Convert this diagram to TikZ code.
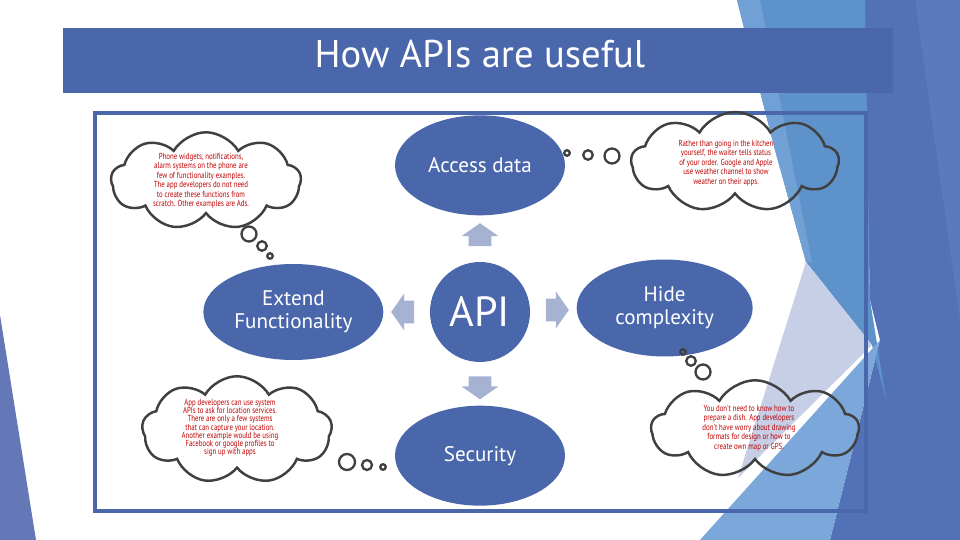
\documentclass[tikz,border=0pt]{standalone}
\usepackage{fontspec}
\setmainfont{PT Sans}
\newfontfamily\notefont[FakeStretch=0.78]{PT Sans}
\usetikzlibrary{shapes.geometric,shapes.symbols,shapes.arrows,positioning,calc}
\definecolor{facetblue}{RGB}{74,103,172}
\definecolor{arrowblue}{RGB}{166,178,210}
\definecolor{cloudline}{RGB}{64,64,64}
\definecolor{notered}{RGB}{192,0,0}
\definecolor{bgdark}{RGB}{83,113,182}
\definecolor{bgmid}{RGB}{94,146,203}
\definecolor{bgstrip}{RGB}{112,160,212}
\definecolor{bglav}{RGB}{198,207,230}
\definecolor{bglight}{RGB}{123,167,218}
\definecolor{bgfar}{RGB}{93,121,190}
\definecolor{bgleft}{RGB}{100,120,184}

\begin{document}
\begin{tikzpicture}[x=0.02cm,y=-0.02cm,node distance=0.92cm,
  topic/.style={ellipse, fill=facetblue, text=white, align=center, inner sep=0pt, font=\fontsize{12}{13}\selectfont},
  pointer/.style={single arrow, fill=arrowblue, inner xsep=0pt, inner ysep=0.22cm, minimum height=0.46cm, single arrow head extend=0.14cm, single arrow tip angle=110},
  vpointer/.style={pointer, inner xsep=0.22cm, inner ysep=0pt},
  thought/.style={cloud, draw=cloudline, line width=1.4pt, cloud puffs=9, cloud puff arc=120, cloud ignores aspect, inner sep=0pt},
  note/.style={text=notered, align=center, inner sep=0pt, font=\notefont\fontsize{5}{5.4}\selectfont},
  bubble/.style={circle, draw=cloudline, line width=1.3pt, inner sep=0pt}]
\useasboundingbox (0,0) rectangle (960,540);
% background facets
\fill[white] (0,0) rectangle (960,540);
\fill[bgdark] (863,0) -- (960,0) -- (960,540) -- (830,540) -- (880,340) -- (870,300) -- cycle;
\fill[bgmid] (737,0) -- (865,0) -- (870,300) -- (886,400) -- (872,345) -- (806,262) -- (775,150) -- (752,60) -- cycle;
\fill[bgstrip] (737,0) -- (760,0) -- (812,262) -- (806,262) -- (775,150) -- (752,60) -- cycle;
\fill[bglav] (806,262) -- (872,345) -- (738,478) -- cycle;
\fill[bglight] (880,340) -- (830,540) -- (700,540) -- cycle;
\fill[bgfar] (915,0) -- (960,0) -- (960,320) -- cycle;
\fill[bgleft] (0,315) -- (0,540) -- (36,540) -- cycle;
% title and frame
\node[fill=facetblue, minimum width=16.6cm, minimum height=1.3cm, inner sep=0pt] (titlebar) at (478,60.5) {};
\node[text=white, font=\fontsize{22}{26}\selectfont, inner sep=0pt] (title) at (480,54) {How APIs are useful};
\draw[facetblue, line width=2.3pt] (95,113) rectangle (866,511);
% topics round the API
\node[topic, circle, minimum size=2cm, font=\fontsize{24}{26}\selectfont] (api) at (480,312) {API};
\node[topic, minimum width=3.4cm, minimum height=2cm, above=of api] (access) {Access data};
\node[topic, minimum width=3.6cm, minimum height=1.92cm, left=of api] (extend) {Extend\\Functionality};
\node[topic, minimum width=3.52cm, minimum height=1.94cm, right=of api, yshift=0.08cm] (hide) {Hide\\complexity};
\node[topic, minimum width=3.4cm, minimum height=2cm, below=0.86cm of api] (security) {Security};
\node[vpointer, shape border rotate=90] (upArrow) at ($(access.south)!0.5!(api.north)$) {};
\node[pointer, shape border rotate=180] (leftArrow) at ($(extend.east)!0.5!(api.west)$) {};
\node[pointer, shape border rotate=0] (rightArrow) at ($(hide.west)!0.5!(api.east)$) {};
\node[vpointer, shape border rotate=270] (downArrow) at ($(security.north)!0.5!(api.south)$) {};
% thought clouds
\node[thought, minimum width=3.8cm, minimum height=1.95cm] (cloudA) at (206,181) {};
\node[note] (cloudAtext) at (201,181) {Phone widgets, notifications,\\alarm systems on the phone are\\few of functionality examples.\\The app developers do not need\\to create these functions from\\scratch. Other examples are Ads.};
\node[bubble, minimum size=0.3cm] (bubA1) at (249,234) {};
\node[bubble, minimum size=0.19cm] (bubA2) at (262,246) {};
\node[bubble, minimum size=0.11cm] (bubA3) at (270,256) {};
\node[thought, minimum width=4.15cm, minimum height=2cm] (cloudB) at (735,162) {};
\node[note] (cloudBtext) at (726,163) {Rather than going in the kitchen\\yourself, the waiter tells status\\of your order. Google and Apple\\use weather channel to show\\weather on their apps.};
\node[bubble, minimum size=0.3cm] (bubB1) at (612,156) {};
\node[bubble, minimum size=0.19cm] (bubB2) at (588,155) {};
\node[bubble, minimum size=0.11cm] (bubB3) at (567,153) {};
\node[thought, minimum width=3.8cm, minimum height=2.15cm] (cloudC) at (237,430) {};
\node[note, font=\notefont\fontsize{5}{4.7}\selectfont] (cloudCtext) at (230,428) {App developers can use system\\APIs to ask for location services.\\There are only a few systems\\that can capture your location.\\Another example would be using\\Facebook or google profiles to\\sign up with apps};
\node[bubble, minimum size=0.32cm] (bubC1) at (347,462) {};
\node[bubble, minimum size=0.2cm] (bubC2) at (367,465) {};
\node[bubble, minimum size=0.11cm] (bubC3) at (383,467) {};
\node[thought, minimum width=4.15cm, minimum height=1.95cm] (cloudD) at (755,429) {};
\node[note] (cloudDtext) at (749,428) {You don't need to know how to\\prepare a dish. App developers\\don't have worry about drawing\\formats for design or how to\\create own map or GPS.};
\node[bubble, minimum size=0.3cm] (bubD1) at (703,372) {};
\node[bubble, minimum size=0.19cm] (bubD2) at (691,361) {};
\node[bubble, minimum size=0.11cm] (bubD3) at (683,352) {};
\end{tikzpicture}
\end{document}
